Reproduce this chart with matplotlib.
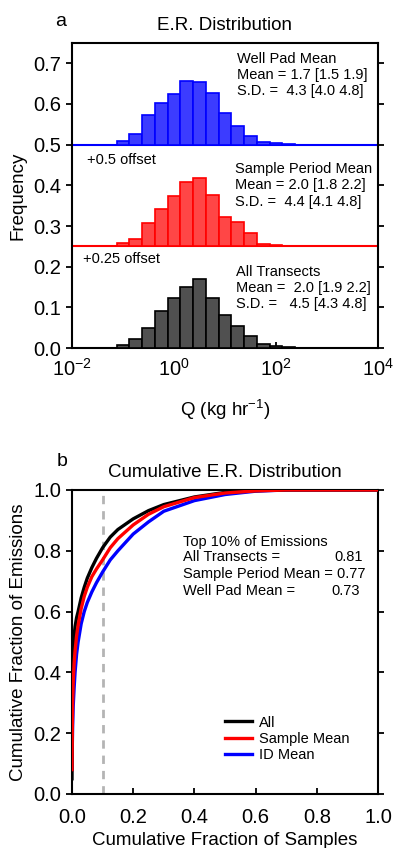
import numpy as np
import matplotlib
matplotlib.use("Agg")
import matplotlib.pyplot as plt

plt.rcParams['font.family'] = ['Liberation Sans', 'DejaVu Sans']
plt.rcParams['mathtext.fontset'] = 'custom'
plt.rcParams['mathtext.rm'] = 'Liberation Sans'

# histogram bins (log10 of bin centre, kg/hr)
bin_centres = [-1.0, -0.75, -0.5, -0.25, 0.0, 0.25, 0.5, 0.75, 1.0, 1.25, 1.5, 1.75, 2.0, 2.25]
bin_half = 0.125

all_freq = [0.008, 0.022, 0.049, 0.090, 0.122, 0.150, 0.170, 0.123, 0.082, 0.053, 0.030, 0.011, 0.005, 0.002]
sample_freq = [0.0075, 0.018, 0.058, 0.093, 0.123, 0.157, 0.168, 0.127, 0.072, 0.059, 0.032, 0.006, 0.004, 0.002]
wellpad_freq = [0.009, 0.026, 0.072, 0.102, 0.125, 0.157, 0.153, 0.128, 0.078, 0.046, 0.022, 0.006, 0.004, 0.002]

sample_offset = 0.25
wellpad_offset = 0.5

# cumulative curves
cum_x = [0, 0.001, 0.002, 0.004, 0.007, 0.01, 0.015, 0.02, 0.03, 0.04, 0.05, 0.065, 0.08,
         0.1, 0.125, 0.15, 0.2, 0.25, 0.3, 0.4, 0.5, 0.6, 0.7, 0.8, 1.0]
cum_all = [0.05, 0.30, 0.40, 0.47, 0.52, 0.55, 0.58, 0.60, 0.645, 0.68, 0.71, 0.745, 0.775,
           0.81, 0.845, 0.87, 0.905, 0.932, 0.952, 0.977, 0.992, 0.998, 1.0, 1.0, 1.0]
cum_sample = [0.08, 0.22, 0.30, 0.37, 0.43, 0.47, 0.52, 0.555, 0.61, 0.65, 0.68, 0.715, 0.74,
              0.77, 0.81, 0.84, 0.885, 0.92, 0.945, 0.975, 0.99, 0.997, 1.0, 1.0, 1.0]
cum_wellpad = [0.08, 0.16, 0.22, 0.29, 0.35, 0.40, 0.46, 0.50, 0.56, 0.60, 0.63, 0.665, 0.695,
               0.73, 0.77, 0.80, 0.855, 0.895, 0.93, 0.965, 0.985, 0.996, 1.0, 1.0, 1.0]

top10_x = 0.1

TICK_FS = 14.5
LABEL_FS = 13.5
NOTE_FS = 10.5

fig = plt.figure(figsize=(3.93, 8.48), dpi=100)
ax1 = fig.add_axes([0.1832, 0.5896, 0.7786, 0.3597])
ax2 = fig.add_axes([0.1832, 0.0637, 0.7786, 0.3585])


def log_bars(ax, freq, bottom, face, edge):
    c = np.array(bin_centres)
    left = 10 ** (c - bin_half)
    width = 10 ** (c + bin_half) - left
    ax.bar(left, freq, width=width, bottom=bottom, align='edge',
           color=face, edgecolor=edge, linewidth=1.2, zorder=3)


log_bars(ax1, all_freq, 0, '#505050', 'black')
log_bars(ax1, sample_freq, sample_offset, '#ff4646', '#ff0000')
log_bars(ax1, wellpad_freq, wellpad_offset, '#3c3cff', '#0000ff')
ax1.axhline(sample_offset, color='#ff0000', lw=1.5, zorder=2)
ax1.axhline(wellpad_offset, color='#0000ff', lw=1.5, zorder=2)

ax1.set_xscale('log')
ax1.set_xlim(1e-2, 1e4)
ax1.set_ylim(0, 0.75)
ax1.set_xticks([1e-2, 1e0, 1e2, 1e4])
ax1.xaxis.set_minor_locator(matplotlib.ticker.NullLocator())
ax1.set_yticks([0.0, 0.1, 0.2, 0.3, 0.4, 0.5, 0.6, 0.7])
ax1.yaxis.set_major_formatter(matplotlib.ticker.FormatStrFormatter('%.1f'))
ax1.set_ylabel('Frequency', fontsize=LABEL_FS, labelpad=5)
ax1.set_xlabel('Q (kg hr$^{-1}$)', fontsize=LABEL_FS, labelpad=13)
ax1.set_title('E.R. Distribution', fontsize=LABEL_FS, pad=9)
ax1.text(-0.036, 1.072, 'a', transform=ax1.transAxes, fontsize=14, ha='center', va='center')

kw = dict(transform=ax1.transAxes, fontsize=NOTE_FS, va='center', ha='left')
ax1.text(0.538, 0.948, 'Well Pad Mean', **kw)
ax1.text(0.538, 0.895, 'Mean = 1.7 [1.5 1.9]', **kw)
ax1.text(0.538, 0.843, 'S.D. =  4.3 [4.0 4.8]', **kw)
ax1.text(0.533, 0.587, 'Sample Period Mean', **kw)
ax1.text(0.533, 0.533, 'Mean = 2.0 [1.8 2.2]', **kw)
ax1.text(0.533, 0.479, 'S.D. =  4.4 [4.1 4.8]', **kw)
ax1.text(0.536, 0.250, 'All Transects', **kw)
ax1.text(0.536, 0.196, 'Mean =  2.0 [1.9 2.2]', **kw)
ax1.text(0.536, 0.143, 'S.D. =   4.5 [4.3 4.8]', **kw)
ax1.text(0.049, 0.618, '+0.5 offset', **kw)
ax1.text(0.037, 0.291, '+0.25 offset', **kw)

# panel b
ax2.axvline(top10_x, color='#b4b4b4', lw=2, ls=(0, (3, 2.5)), zorder=1)
ax2.plot(cum_x, cum_all, color='black', lw=2.4, label='All', zorder=3)
ax2.plot(cum_x, cum_sample, color='#ff0000', lw=2.4, label='Sample Mean', zorder=4)
ax2.plot(cum_x, cum_wellpad, color='#0000ff', lw=2.4, label='ID Mean', zorder=2)
ax2.set_xlim(0, 1)
ax2.set_ylim(0, 1)
ticks = [0.0, 0.2, 0.4, 0.6, 0.8, 1.0]
ax2.set_xticks(ticks)
ax2.set_yticks(ticks)
fmt = matplotlib.ticker.FormatStrFormatter('%.1f')
ax2.xaxis.set_major_formatter(fmt)
ax2.yaxis.set_major_formatter(fmt)
ax2.set_xlabel('Cumulative Fraction of Samples', fontsize=LABEL_FS, labelpad=4)
ax2.set_ylabel('Cumulative Fraction of Emissions', fontsize=LABEL_FS, labelpad=5)
ax2.set_title('Cumulative E.R. Distribution', fontsize=LABEL_FS, pad=9)
ax2.text(-0.033, 1.093, 'b', transform=ax2.transAxes, fontsize=14, ha='center', va='center')

kw2 = dict(transform=ax2.transAxes, fontsize=NOTE_FS, va='center')
ax2.text(0.362, 0.830, 'Top 10% of Emissions', ha='left', **kw2)
ax2.text(0.362, 0.778, 'All Transects =', ha='left', **kw2)
ax2.text(0.950, 0.778, '0.81', ha='right', **kw2)
ax2.text(0.362, 0.724, 'Sample Period Mean = 0.77', ha='left', **kw2)
ax2.text(0.362, 0.669, 'Well Pad Mean =', ha='left', **kw2)
ax2.text(0.942, 0.669, '0.73', ha='right', **kw2)

ax2.legend(loc='upper left', bbox_to_anchor=(0.5, 0.258), frameon=False, fontsize=NOTE_FS,
           handlelength=1.85, handletextpad=0.45, labelspacing=0.15,
           borderpad=0, borderaxespad=0)

for ax in (ax1, ax2):
    for s in ax.spines.values():
        s.set_linewidth(1.5)
    ax.tick_params(axis='y', direction='out', right=True, length=4, width=1.3, labelsize=TICK_FS)
    ax.tick_params(axis='x', direction='in', length=4, width=1.3, labelsize=TICK_FS, pad=7)
ax2.tick_params(axis='x', pad=10)

fig.savefig('out.png', dpi=100)
